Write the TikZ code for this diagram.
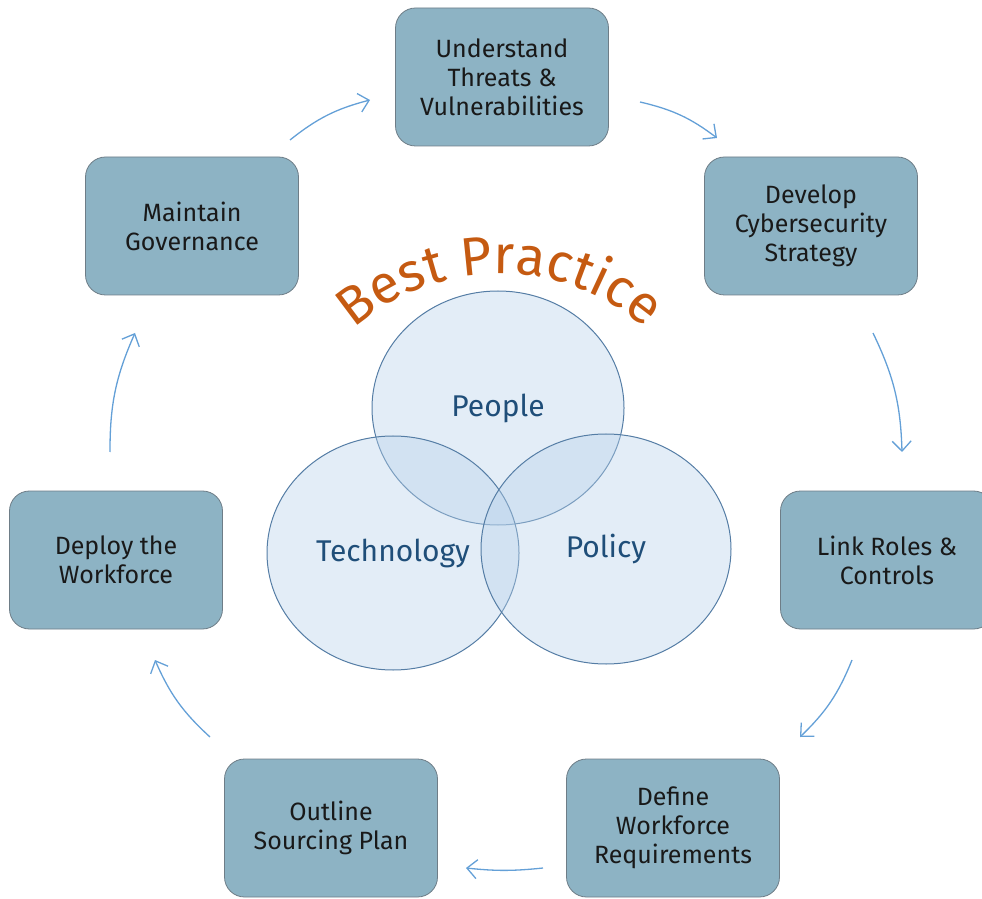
\documentclass[tikz,border=0pt]{standalone}
\usepackage{fontspec}
\setmainfont{Fira Sans}
\usetikzlibrary{arrows.meta,decorations.text}
\definecolor{boxfill}{RGB}{141,179,196}
\definecolor{boxline}{RGB}{110,125,135}
\definecolor{arrcol}{RGB}{100,160,215}
\definecolor{venfill}{RGB}{183,209,234}
\definecolor{venline}{RGB}{85,125,165}
\definecolor{ventext}{RGB}{31,78,121}
\definecolor{bporange}{RGB}{197,90,17}
\tikzset{
  stepbox/.style={draw=boxline, line width=0.8pt, fill=boxfill, rounded corners=20pt,
    minimum width=213pt, minimum height=138pt, align=center, text=black!90,
    font=\fontsize{25}{29}\selectfont, inner sep=0pt},
  flowarr/.style={draw=arrcol, line width=1.3pt, -{Straight Barb[length=10pt,width=19pt,line width=1.3pt]}},
  venn/.style={draw=venline, line width=1pt, fill=venfill, fill opacity=0.39},
  venlabel/.style={text=ventext, font=\fontsize{30}{34}\selectfont}
}
\begin{document}
\begin{tikzpicture}[x=1pt,y=1pt]
\useasboundingbox (0,0) rectangle (982,898);
% boxes
\node[stepbox] (U) at (502,821) {Understand\\Threats \&\\Vulnerabilities};
\node[stepbox] (D) at (811,672) {Develop\\Cybersecurity\\Strategy};
\node[stepbox] (L) at (887,338) {Link Roles \&\\Controls};
\node[stepbox] (R) at (673,70) {Define\\Workforce\\Requirements};
\node[stepbox] (O) at (331,70) {Outline\\Sourcing Plan};
\node[stepbox] (W) at (116,338) {Deploy the\\Workforce};
\node[stepbox] (M) at (192,672) {Maintain\\Governance};
% arrow end points
\coordinate (a1s) at (290,758); \coordinate (a1e) at (370,798);
\coordinate (a2s) at (640,796); \coordinate (a2e) at (717,760);
\coordinate (a3s) at (873,565); \coordinate (a3e) at (902,446);
\coordinate (a4s) at (852,238); \coordinate (a4e) at (800,161);
\coordinate (a5s) at (543,30);  \coordinate (a5e) at (466,30);
\coordinate (a6s) at (210,161); \coordinate (a6e) at (155,238);
\coordinate (a7s) at (110,446); \coordinate (a7e) at (135,565);
\draw[flowarr] (a1s) to[bend left=12] (a1e);
\draw[flowarr] (a2s) to[bend left=12] (a2e);
\draw[flowarr] (a3s) to[bend left=12] (a3e);
\draw[flowarr] (a4s) to[bend left=12] (a4e);
\draw[flowarr] (a5s) to[bend left=6] (a5e);
\draw[flowarr] (a6s) to[bend left=12] (a6e);
\draw[flowarr] (a7s) to[bend left=12] (a7e);
% venn
\path[venn] (498,490) ellipse [x radius=126, y radius=117];
\path[venn] (393,345) ellipse [x radius=126, y radius=117];
\path[venn] (606,349) ellipse [x radius=125, y radius=115];
\node[venlabel] (people) at (498,490) {People};
\node[venlabel] (tech) at (393,345) {Technology};
\node[venlabel] (policy) at (606,349) {Policy};
% title
\path[decorate, decoration={text along path, text align=center,
  text={|\fontsize{54}{54}\selectfont\color{bporange}|Best Practice}}]
  (500,402) ++(150:222) arc[start angle=150, end angle=30, radius=222];
\end{tikzpicture}
\end{document}
